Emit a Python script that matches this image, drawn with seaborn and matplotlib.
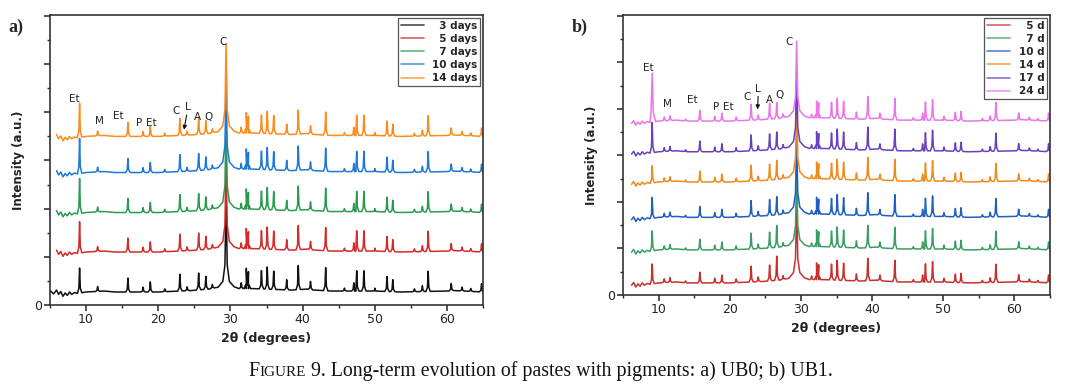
import numpy as np
import pandas as pd
import matplotlib
matplotlib.use("Agg")
import matplotlib.pyplot as plt
import seaborn as sns

sns.set_style("ticks")
plt.rcParams['font.family'] = ['DejaVu Sans']

# ---------------- panel a) UB0 ----------------
labels_a = ["\u20073 days", "\u20075 days", "\u20077 days", "10 days", "14 days"]
colors_a = ["#111111", "#d42a2a", "#2a9a4e", "#1f78d8", "#ff8a1c"]
offsets_a = [0.27, 1.10, 1.92, 2.75, 3.50]
start_a = [5.1, 5.9, 5.9, 5.9, 5.9]

peaks_a = [9.1, 11.6, 15.8, 17.9, 18.9, 20.9, 23.0, 24.0, 25.6, 26.6, 27.5,
           29.4, 31.5, 32.2, 32.5, 34.3, 35.1, 36.0, 37.8, 39.4, 41.1, 43.2,
           45.8, 47.1, 47.5, 48.5, 50.0, 51.7, 52.5, 55.5, 56.6, 57.4, 60.6,
           62.1, 63.3, 64.8]
heights_a = [0.65, 0.10, 0.29, 0.10, 0.21, 0.06, 0.35, 0.08, 0.35, 0.27, 0.08,
             1.70, 0.12, 0.42, 0.35, 0.38, 0.46, 0.38, 0.21, 0.50, 0.17, 0.48,
             0.06, 0.17, 0.42, 0.42, 0.06, 0.31, 0.25, 0.06, 0.12, 0.42, 0.15,
             0.08, 0.06, 0.17]
et_a = [0.52, 0.65, 0.73, 0.73, 0.71]   # Et peak (9.1 deg) for each series

# ---------------- panel b) UB1 ----------------
labels_b = ["\u20075 d", "\u20077 d", "10 d", "14 d", "17 d", "24 d"]
colors_b = ["#c8302e", "#3a9e63", "#1f5fc2", "#f08a1c", "#6a3fc0", "#ea74ea"]
offsets_b = [0.26, 0.97, 1.67, 2.43, 3.08, 3.74]
start_b = [5.95, 5.95, 5.95, 5.95, 5.95, 5.95]

peaks_b = [9.1, 10.8, 11.6, 13.8, 15.8, 17.9, 18.9, 20.9, 23.0, 24.0, 25.6,
           26.6, 27.5, 29.4, 31.5, 32.2, 32.5, 34.3, 35.1, 36.0, 37.8, 39.4,
           41.1, 43.2, 45.8, 47.1, 47.5, 48.5, 50.1, 51.7, 52.5, 55.5, 56.6,
           57.4, 60.6, 62.1, 63.3, 64.8]
heights_b = [0.43, 0.08, 0.10, 0.04, 0.23, 0.10, 0.17, 0.08, 0.34, 0.10, 0.34,
             0.45, 0.08, 1.50, 0.08, 0.36, 0.32, 0.34, 0.43, 0.37, 0.15, 0.48,
             0.12, 0.46, 0.05, 0.15, 0.39, 0.44, 0.08, 0.18, 0.20, 0.05, 0.10,
             0.39, 0.15, 0.06, 0.04, 0.17]
et_b = [0.43, 0.43, 0.45, 0.37, 0.65, 1.05]   # Et (9.1 deg)
q_b = [0.52, 0.47, 0.39, 0.41, 0.37, 0.34]    # Q (26.6 deg)

# baseline shape (low-angle noise, hump under calcite peak)
bg_x = [5.1, 5.5, 5.9, 6.2, 6.5, 6.8, 7.1, 7.4, 7.7, 8.0, 8.4, 8.8, 10.0, 12.5,
        14.0, 20.0, 24.5, 27.0, 28.3, 28.95, 29.85, 30.5, 31.2, 33.3, 38.5,
        40.6, 41.6, 44.0, 46.5, 50.0, 53.5, 60.2, 61.0, 65.0]
bg_y = [0.02, -0.04, 0.04, -0.05, 0.01, -0.09, -0.02, -0.07, 0.0, -0.05, -0.01,
        -0.03, 0.0, 0.02, 0.0, 0.0, 0.03, 0.06, 0.10, 0.22, 0.22, 0.11, 0.07,
        0.07, 0.04, 0.06, 0.04, 0.02, 0.02, 0.02, 0.0, 0.02, 0.03, 0.0]


def trace(pos, hts, x0, off):
    xs, ys = list(bg_x), list(bg_y)
    for p, h in zip(pos, hts):
        k = 1.6 if h > 1 else 1.0
        for dx, frac in ((-0.3, 0.0), (-0.1, 0.2), (0.0, 1.0), (0.1, 0.2), (0.3, 0.0)):
            xx = p + dx * k
            xs.append(xx)
            ys.append(np.interp(xx, bg_x, bg_y) + frac * h)
    order = np.argsort(xs)
    xs = np.array(xs)[order]
    ys = np.array(ys)[order] + off
    keep = xs >= x0
    return xs[keep], ys[keep]


rows = []
for i, lab in enumerate(labels_a):
    h = list(heights_a)
    h[0] = et_a[i]
    xs, ys = trace(peaks_a, h, start_a[i], offsets_a[i])
    rows.append(pd.DataFrame({"two_theta": xs, "intensity": ys, "series": lab}))
df_a = pd.concat(rows, ignore_index=True)

rows = []
for i, lab in enumerate(labels_b):
    h = list(heights_b)
    h[0] = et_b[i]
    h[peaks_b.index(26.6)] = q_b[i]
    xs, ys = trace(peaks_b, h, start_b[i], offsets_b[i])
    rows.append(pd.DataFrame({"two_theta": xs, "intensity": ys, "series": lab}))
df_b = pd.concat(rows, ignore_index=True)

fig = plt.figure(figsize=(10.81, 3.92), dpi=100)
W, H = 1081, 392
ax_a = fig.add_axes([50 / W, 1 - 305 / H, 433 / W, 290 / H])
ax_b = fig.add_axes([623 / W, 1 - 295 / H, 427 / W, 280 / H])


def style_axes(ax):
    ax.set_xlim(5, 65)
    ax.set_ylim(0, 6.02)
    ax.set_xticks(np.arange(10, 61, 10))
    ax.set_xticks(np.arange(5, 66, 5), minor=True)
    ax.set_yticks(np.arange(0, 7, 1))
    ax.set_yticklabels(["0", "", "", "", "", "", ""])
    ax.set_yticks(np.arange(0.5, 6, 1), minor=True)
    ax.tick_params(which="major", direction="out", length=4, width=1.1,
                   labelsize=9, colors="#222222", pad=2)
    ax.tick_params(which="minor", direction="out", length=2.5, width=1.0)
    for s in ax.spines.values():
        s.set_linewidth(1.2)
        s.set_color("#333333")
    ax.set_xlabel("2\u03b8 (degrees)", fontsize=9, fontweight="bold",
                  color="#222222", labelpad=4)
    ax.set_ylabel("Intensity (a.u.)", fontsize=8.5, fontweight="bold",
                  color="#222222", labelpad=6)


for ax, df, cols, labs in ((ax_a, df_a, colors_a, labels_a),
                           (ax_b, df_b, colors_b, labels_b)):
    sns.lineplot(data=df, x="two_theta", y="intensity", hue="series",
                 hue_order=labs, palette=cols, estimator=None, sort=False,
                 lw=1.1, legend=False, ax=ax)
    style_axes(ax)
    leg = ax.legend(handles=ax.lines[:len(labs)], labels=labs, loc="upper right",
                    prop={"size": 7.5, "weight": "bold"}, handlelength=2.2,
                    labelspacing=0.3, borderaxespad=0.25, fancybox=False,
                    framealpha=1, edgecolor="#555555", handletextpad=0.8,
                    borderpad=0.3)
    leg.get_frame().set_linewidth(0.9)
    for ln in leg.get_lines():
        ln.set_alpha(0.75)
        ln.set_linewidth(1.2)

# phase labels
ann_a = [("Et", 8.3, 4.27), ("M", 11.9, 3.81), ("Et", 14.4, 3.92), ("P", 17.4, 3.77),
         ("Et", 19.1, 3.77), ("C", 22.4, 4.02), ("L", 24.1, 4.12), ("A", 25.4, 3.9),
         ("Q", 26.9, 3.9), ("C", 29.0, 5.46)]
ann_b = [("Et", 8.5, 4.88), ("M", 11.3, 4.1), ("Et", 14.7, 4.19), ("P", 18.1, 4.05),
         ("Et", 19.8, 4.05), ("C", 22.5, 4.26), ("L", 24.0, 4.42), ("A", 25.6, 4.19),
         ("Q", 27.0, 4.3), ("C", 28.4, 5.45)]
for ax, ann, tip, tail in ((ax_a, ann_a, (23.5, 3.58), (24.0, 4.0)),
                           (ax_b, ann_b, (23.9, 3.93), (24.0, 4.33))):
    for t, x, y in ann:
        ax.text(x, y, t, fontsize=7.5, ha="center", va="center", color="#222222")
    ax.annotate("", xy=tip, xytext=tail,
                arrowprops=dict(arrowstyle="-|>", lw=0.8, color="#111111",
                                mutation_scale=6))

fig.text(8 / W, 1 - 27 / H, "a)", fontsize=13, fontweight="bold",
         family="Liberation Serif", va="center", ha="left")
fig.text(572 / W, 1 - 27 / H, "b)", fontsize=13, fontweight="bold",
         family="Liberation Serif", va="center", ha="left")

# caption with small-caps "Figure", centred under the figure
fig.canvas.draw()
r = fig.canvas.get_renderer()
parts = (("F", 14.3), ("IGURE", 10.9),
         (" 9. Long-term evolution of pastes with pigments: a) UB0; b) UB1.", 14.3))
yc = 1 - 376 / H
texts = []
x = 0.0
for txt, size in parts:
    t = fig.text(x, yc, txt, fontsize=size, family="Liberation Serif",
                 ha="left", va="baseline", color="#111111")
    bb = t.get_window_extent(renderer=r)
    texts.append((t, bb.width / W))
    x += bb.width / W
x = 0.5 - x / 2
for t, w in texts:
    t.set_x(x)
    x += w

fig.savefig("out.png", dpi=100)
